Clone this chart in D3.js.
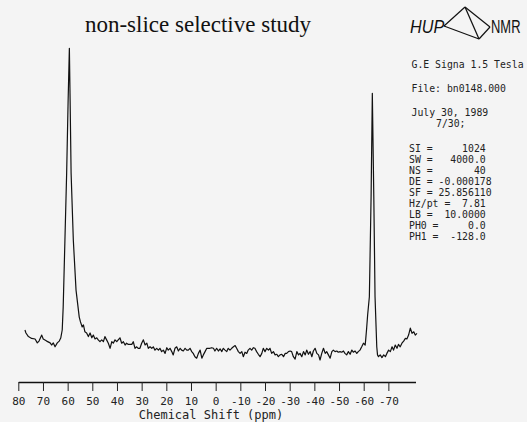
<!DOCTYPE html>
<html>
<head>
<meta charset="utf-8">
<script src="https://cdn.jsdelivr.net/npm/d3@7"></script>
<style>
  html, body { margin: 0; padding: 0; background: #f4f4f4; }
  svg { display: block; }
</style>
</head>
<body>
<svg id="chart" width="527" height="422"></svg>
<script>
// chemical shift (ppm) of each traced point, high to low
const ppm = [
    77.3, 76.9, 75.9, 74.6, 73.2, 72.3, 71.6, 70.5, 69.9, 68.5, 67.1, 66.5, 65.8, 65.1, 64.2, 63.4,
    62.8, 62.2, 61.8, 61.1, 60.4, 59.8, 59.3, 59.0, 58.6, 57.7, 56.6, 55.3, 54.8, 54.1, 53.6, 53.0,
    52.3, 51.6, 50.9, 50.2, 49.6, 48.9, 48.2, 47.6, 46.9, 46.2, 45.5, 44.9, 44.2, 43.5, 42.8, 42.1,
    41.5, 40.8, 40.1, 39.5, 38.8, 38.1, 37.4, 36.7, 36.1, 35.4, 34.0, 33.4, 32.7, 32.0, 31.4, 30.7,
    30.0, 29.3, 28.6, 27.9, 27.3, 26.6, 25.9, 25.3, 24.6, 23.9, 23.2, 22.6, 21.9, 21.2, 20.5, 19.8,
    19.2, 18.5, 17.8, 17.2, 16.5, 15.8, 15.1, 14.4, 13.8, 13.1, 12.4, 11.7, 11.1, 10.4, 9.7, 9.1,
    8.4, 7.7, 7.0, 6.3, 5.6, 5.0, 4.3, 3.6, 3.0, 2.3, 1.6, 0.9, 0.3, -0.4, -1.1, -1.8,
    -2.5, -3.1, -3.8, -4.5, -5.1, -5.8, -6.5, -7.2, -7.9, -8.5, -9.2, -9.9, -10.6, -11.2, -11.9, -12.6,
    -13.2, -13.9, -14.6, -15.3, -15.9, -16.6, -17.3, -18.0, -18.7, -19.3, -20.0, -20.7, -21.4, -22.0, -22.7, -23.4,
    -24.1, -24.8, -25.4, -26.1, -26.8, -27.5, -28.2, -28.8, -29.5, -30.2, -30.8, -31.5, -32.2, -32.9, -33.6, -34.2,
    -34.9, -35.6, -36.3, -36.9, -37.6, -38.3, -39.0, -39.6, -40.3, -41.0, -41.7, -42.3, -43.0, -43.7, -44.4, -45.0,
    -45.7, -46.4, -47.1, -47.7, -48.4, -49.1, -49.7, -50.4, -51.1, -51.8, -52.4, -53.1, -53.8, -54.5, -55.2, -55.8,
    -56.5, -57.2, -57.8, -58.5, -59.2, -59.9, -60.6, -60.8, -61.2, -61.6, -62.3, -63.0, -63.5, -64.1, -64.6, -65.3,
    -65.6, -66.0, -66.7, -67.4, -68.1, -68.8, -69.4, -70.1, -70.8, -71.5, -72.1, -72.8, -73.5, -74.1, -74.8, -75.5,
    -76.2, -76.9, -77.5, -78.2, -78.9, -79.6, -80.3, -80.9, -81.6
]

// signal intensity (arbitrary units) at each ppm above
const intensity = [
    10.0, 9.0, 7.8, 7.2, 7.0, 5.7, 6.3, 8.3, 7.0, 6.3, 5.7, 5.0, 5.7, 4.4, 5.7, 6.3,
    7.3, 10.0, 17.7, 40.0, 62.3, 86.7, 103.9, 86.7, 62.3, 40.0, 23.3, 14.3, 12.7, 11.0, 11.7, 9.4,
    9.0, 7.8, 9.0, 7.4, 8.3, 7.0, 7.4, 6.7, 6.1, 6.7, 6.1, 7.8, 6.7, 5.6, 3.9, 6.1,
    5.6, 6.7, 6.1, 6.7, 7.4, 5.6, 6.1, 5.0, 5.6, 5.2, 5.2, 6.1, 3.9, 4.4, 3.9, 3.9,
    5.6, 6.7, 5.0, 5.6, 3.9, 4.4, 3.9, 4.4, 3.3, 3.9, 3.3, 3.9, 2.8, 3.3, 2.2, 4.1,
    3.3, 3.9, 2.8, 1.7, 3.9, 4.4, 3.0, 3.9, 3.3, 3.0, 3.9, 3.3, 3.3, 3.9, 2.8, 2.2,
    1.1, 0.6, 2.2, 3.3, 0.6, 1.7, 2.8, 3.9, 3.9, 3.9, 4.1, 3.9, 3.0, 3.9, 3.0, 3.7,
    2.8, 3.9, 3.3, 2.8, 3.9, 3.3, 3.9, 4.4, 4.8, 3.9, 2.8, 2.2, 2.8, 1.1, 2.6, 2.2,
    3.3, 3.9, 3.3, 4.1, 3.9, 2.8, 1.9, 1.1, 2.2, 3.9, 2.8, 3.9, 3.3, 3.9, 2.2, 2.8,
    1.7, 1.9, 1.1, 1.7, 1.9, 1.1, 2.2, 2.2, 2.8, 3.0, 2.8, 1.1, 0.3, 2.8, 1.7, 2.2,
    1.1, 2.8, 1.7, 3.3, 1.9, 2.8, 1.1, 3.0, 3.9, 2.2, 1.7, 0.0, 2.2, 3.9, 2.2, 2.8,
    1.7, 0.6, 2.8, 3.3, 2.8, 3.0, 2.6, 2.8, 2.6, 3.0, 2.2, 1.7, 2.8, 1.9, 3.3, 2.6,
    3.0, 2.2, 2.8, 3.3, 4.4, 5.6, 5.0, 6.7, 10.6, 15.0, 21.1, 54.4, 88.9, 54.4, 21.1, 4.4,
    1.7, 1.1, 1.7, 0.8, 1.7, 1.1, 2.2, 3.3, 2.8, 4.4, 3.3, 5.0, 3.9, 5.2, 4.4, 5.6,
    6.3, 7.2, 7.0, 8.3, 10.6, 8.9, 9.4, 8.3, 8.9
]

const tickValues = [80, 70, 60, 50, 40, 30, 20, 10, 0, -10, -20, -30, -40, -50, -60, -70]

const headerLines = ["G.E Signa 1.5 Tesla", "File: bn0148.000", "July 30, 1989"]
const dateLine = "7/30;"
const paramLines = [
    "SI =     1024",
    "SW =   4000.0",
    "NS =       40",
    "DE = -0.000178",
    "SF = 25.856110",
    "Hz/pt =  7.81",
    "LB =  10.0000",
    "PH0 =     0.0",
    "PH1 =  -128.0"
]

let SpectrumChart = function (svg) {
    this.svg = svg
    this.width = 527
    this.height = 422
    this.mono = "'DejaVu Sans Mono', monospace"

    this.x = d3.scaleLinear().domain([80, -81]).range([18.3, 415.5])
    this.y = d3.scaleLinear().domain([0, 104]).range([360, 48])

    this.draw()
}

SpectrumChart.prototype.draw = function () {
    this.addTitle()
    this.addLogo()
    this.addParams()
    this.addSpectrum()
    this.addAxis()
}

// keep the column spacing of the printout
SpectrumChart.prototype.keepSpaces = function (s) {
    return s.replace(/ /g, "\u00a0")
}

SpectrumChart.prototype.addTitle = function () {
    this.svg.append("text")
        .attr("x", 198)
        .attr("y", 32)
        .attr("text-anchor", "middle")
        .attr("font-family", "'Liberation Serif', serif")
        .attr("font-size", 23)
        .attr("fill", "#111")
        .text("non-slice selective study")
}

SpectrumChart.prototype.addLogo = function () {
    const g = this.svg.append("g").attr("id", "logo")
    const sans = "'Liberation Sans', sans-serif"

    g.append("text")
        .attr("transform", "translate(410,33) scale(0.9,1)")
        .attr("font-family", sans)
        .attr("font-style", "italic")
        .attr("font-size", 18)
        .attr("fill", "#111")
        .text("HUP")

    const pts = { a: [465, 7], l: [444, 26], b: [479, 39], r: [490, 27] }
    const edges = [["a", "l"], ["a", "b"], ["a", "r"], ["l", "b"], ["b", "r"]]
    g.selectAll("line.edge")
        .data(edges)
        .join("line")
        .attr("class", "edge")
        .attr("x1", d => pts[d[0]][0])
        .attr("y1", d => pts[d[0]][1])
        .attr("x2", d => pts[d[1]][0])
        .attr("y2", d => pts[d[1]][1])
        .attr("stroke", "#111")
        .attr("stroke-width", 1.2)

    g.append("text")
        .attr("transform", "translate(491,33) scale(0.72,1)")
        .attr("font-family", sans)
        .attr("font-size", 18)
        .attr("fill", "#111")
        .text("NMR")
}

SpectrumChart.prototype.addParams = function () {
    const _this = this
    const g = this.svg.append("g")
        .attr("font-family", this.mono)
        .attr("font-size", 9.8)
        .attr("fill", "#222")

    g.selectAll("text.header")
        .data(headerLines)
        .join("text")
        .attr("class", "header")
        .attr("x", 411.5)
        .attr("y", (d, i) => 68 + i * 24)
        .text(d => _this.keepSpaces(d))

    g.append("text")
        .attr("x", 436)
        .attr("y", 127)
        .text(dateLine)

    g.selectAll("text.param")
        .data(paramLines)
        .join("text")
        .attr("class", "param")
        .attr("x", 409)
        .attr("y", (d, i) => 152 + i * 11)
        .text(d => _this.keepSpaces(d))
}

SpectrumChart.prototype.addSpectrum = function () {
    const points = ppm.map((p, i) => [p, intensity[i]])
    const line = d3.line()
        .x(d => this.x(d[0]))
        .y(d => this.y(d[1]))

    this.svg.append("path")
        .datum(points)
        .attr("d", line)
        .attr("fill", "none")
        .attr("stroke", "#111")
        .attr("stroke-width", 1.2)
        .attr("stroke-linejoin", "round")
}

SpectrumChart.prototype.addAxis = function () {
    const axis = d3.axisBottom(this.x)
        .tickValues(tickValues)
        .tickFormat(d => String(d))
        .tickSize(9)
        .tickSizeOuter(0)
        .tickPadding(6)

    const g = this.svg.append("g")
        .attr("transform", "translate(0,382)")
        .call(axis)

    g.select(".domain").attr("stroke", "#111").attr("stroke-width", 1.6)
    g.selectAll(".tick line").attr("stroke", "#222").attr("stroke-width", 1)
    g.selectAll(".tick text")
        .attr("font-family", this.mono)
        .attr("font-size", 11)
        .attr("fill", "#222")

    this.svg.append("text")
        .attr("x", 211)
        .attr("y", 419)
        .attr("text-anchor", "middle")
        .attr("font-family", this.mono)
        .attr("font-size", 12)
        .attr("fill", "#222")
        .text("Chemical Shift (ppm)")
}

new SpectrumChart(d3.select("#chart"))
</script>
</body>
</html>
